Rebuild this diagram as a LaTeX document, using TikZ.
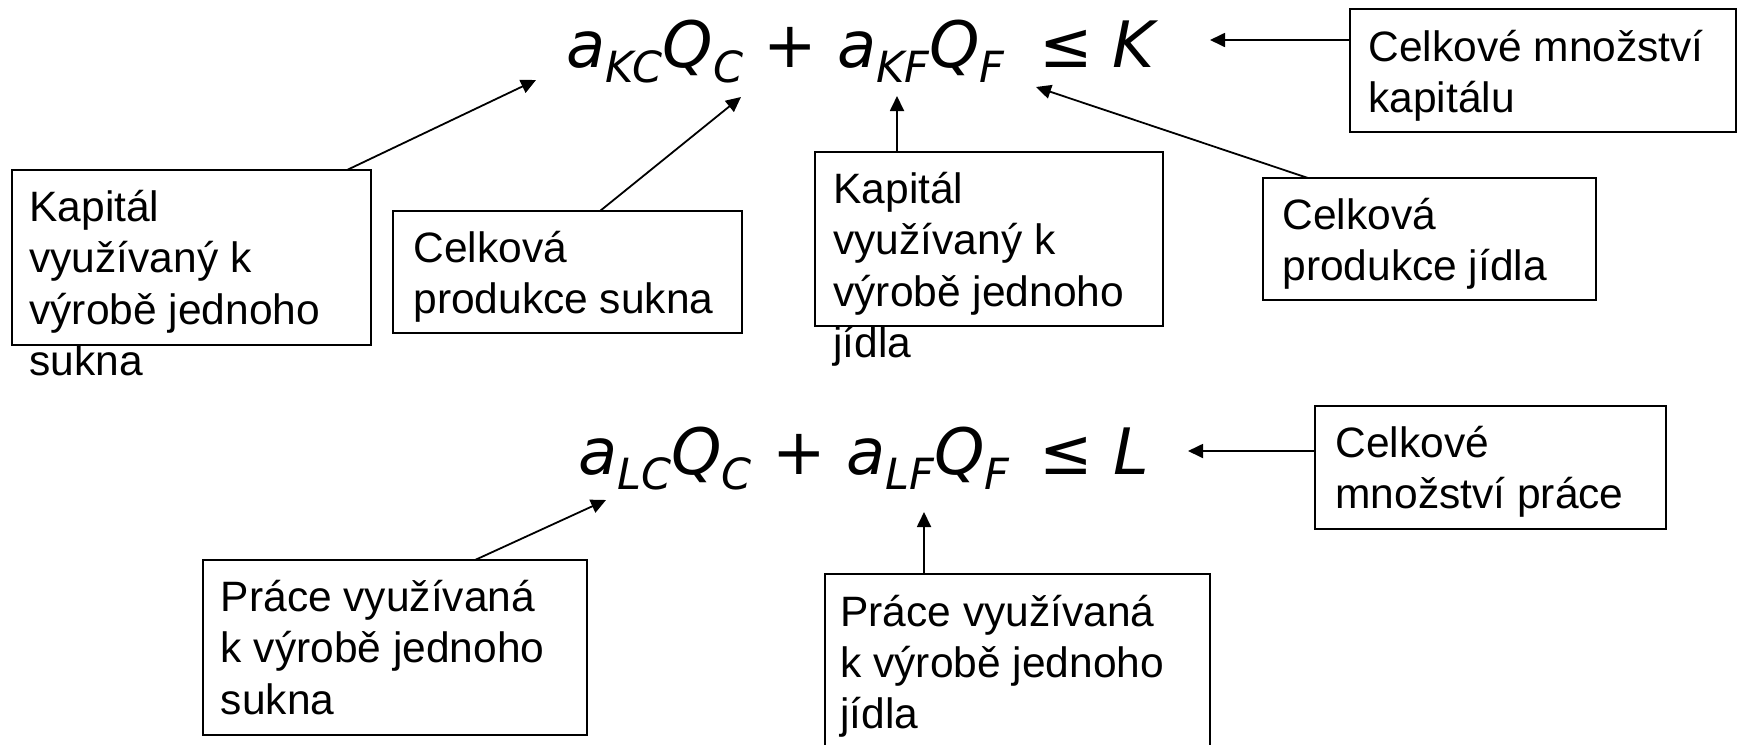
\documentclass[tikz,border=0pt]{standalone}
\usepackage{fontspec}
\setmainfont{Liberation Sans}
\newfontfamily\eqfont{DejaVu Sans}
\usetikzlibrary{arrows.meta,calc}
\newcommand\txtlines[1]{\vtop{\baselineskip=25.7pt\lineskiplimit=-100pt\lineskip=0pt\halign{##\hfil\cr#1\crcr}}}
\newcommand\subx[1]{\raisebox{-7.5pt}{\fontsize{21.5pt}{24pt}\selectfont #1}}
\begin{document}
\begin{tikzpicture}[x=0.5pt,y=-0.5pt,
  box/.style={draw, line width=1.1pt, inner sep=0pt, outer sep=0pt, anchor=north west},
  lbl/.style={inner sep=0pt, anchor=base west, font=\fontsize{21.25pt}{25.7pt}\selectfont},
  eqn/.style={inner sep=0pt, anchor=base west, font=\eqfont\itshape\fontsize{32pt}{36pt}\selectfont},
  arr/.style={line width=0.9pt, -{Triangle[length=7.5pt,width=7pt]}}]
\useasboundingbox (0,0) rectangle (1738,744);

% equations
\node[eqn] (eq1) at (566,67) {a\subx{KC}Q\subx{C} + a\subx{KF}Q\subx{F}\hspace{7pt} ≤ K};
\node[eqn] (eq2) at (578,474) {a\subx{LC}Q\subx{C} + a\subx{LF}Q\subx{F}\hspace{5pt} ≤ L};

% boxes
\node[box, minimum width=179.5pt, minimum height=87.5pt] (KS) at (12,170) {};
\node[box, minimum width=174.5pt, minimum height=61pt] (CS) at (393,211) {};
\node[box, minimum width=174pt, minimum height=87pt] (KJ) at (815,152) {};
\node[box, minimum width=166.5pt, minimum height=61pt] (CJ) at (1263,178) {};
\node[box, minimum width=193pt, minimum height=61.5pt] (CK) at (1350,9) {};
\node[box, minimum width=192pt, minimum height=87.5pt] (PS) at (203,560) {};
\node[box, minimum width=192.5pt, minimum height=87.5pt] (PJ) at (825,574) {};
\node[box, minimum width=175.5pt, minimum height=61.5pt] (CP) at (1315,406) {};

% box texts
\node[lbl] (tKS) at (29,221.5) {\txtlines{Kapitál\cr využívaný k\cr výrobě jednoho\cr sukna}};
\node[lbl] (tCS) at (413,262.5) {\txtlines{Celková\cr produkce sukna}};
\node[lbl] (tKJ) at (833,203.5) {\txtlines{Kapitál\cr využívaný k\cr výrobě jednoho\cr jídla}};
\node[lbl] (tCJ) at (1282,229.5) {\txtlines{Celková\cr produkce jídla}};
\node[lbl] (tCK) at (1368,61) {\txtlines{Celkové množství\cr kapitálu}};
\node[lbl] (tPS) at (220.5,611.5) {\txtlines{Práce využívaná\cr k výrobě jednoho\cr sukna}};
\node[lbl] (tPJ) at (840,626) {\txtlines{Práce využívaná\cr k výrobě jednoho\cr jídla}};
\node[lbl] (tCP) at (1335,457.5) {\txtlines{Celkové\cr množství práce}};

% arrow tips
\coordinate (t1) at (536,80);
\coordinate (t2) at (741,97);
\coordinate (t3) at (897,96);
\coordinate (t4) at (1036,87);
\coordinate (t5) at (1210,40);
\coordinate (t6) at (606,500);
\coordinate (t7) at (924,512);
\coordinate (t8) at (1188,451);

% arrows
\draw[arr] ($(KS.north west)+(335,0)$) -- (t1);
\draw[arr] ($(CS.north west)+(207,0)$) -- (t2);
\draw[arr] ($(KJ.north west)+(82,0)$) -- (t3);
\draw[arr] ($(CJ.north west)+(45,0)$) -- (t4);
\draw[arr] ($(CK.north west)+(0,31)$) -- (t5);
\draw[arr] ($(PS.north west)+(272,0)$) -- (t6);
\draw[arr] ($(PJ.north west)+(99,0)$) -- (t7);
\draw[arr] ($(CP.north west)+(0,45)$) -- (t8);
\end{tikzpicture}
\end{document}
